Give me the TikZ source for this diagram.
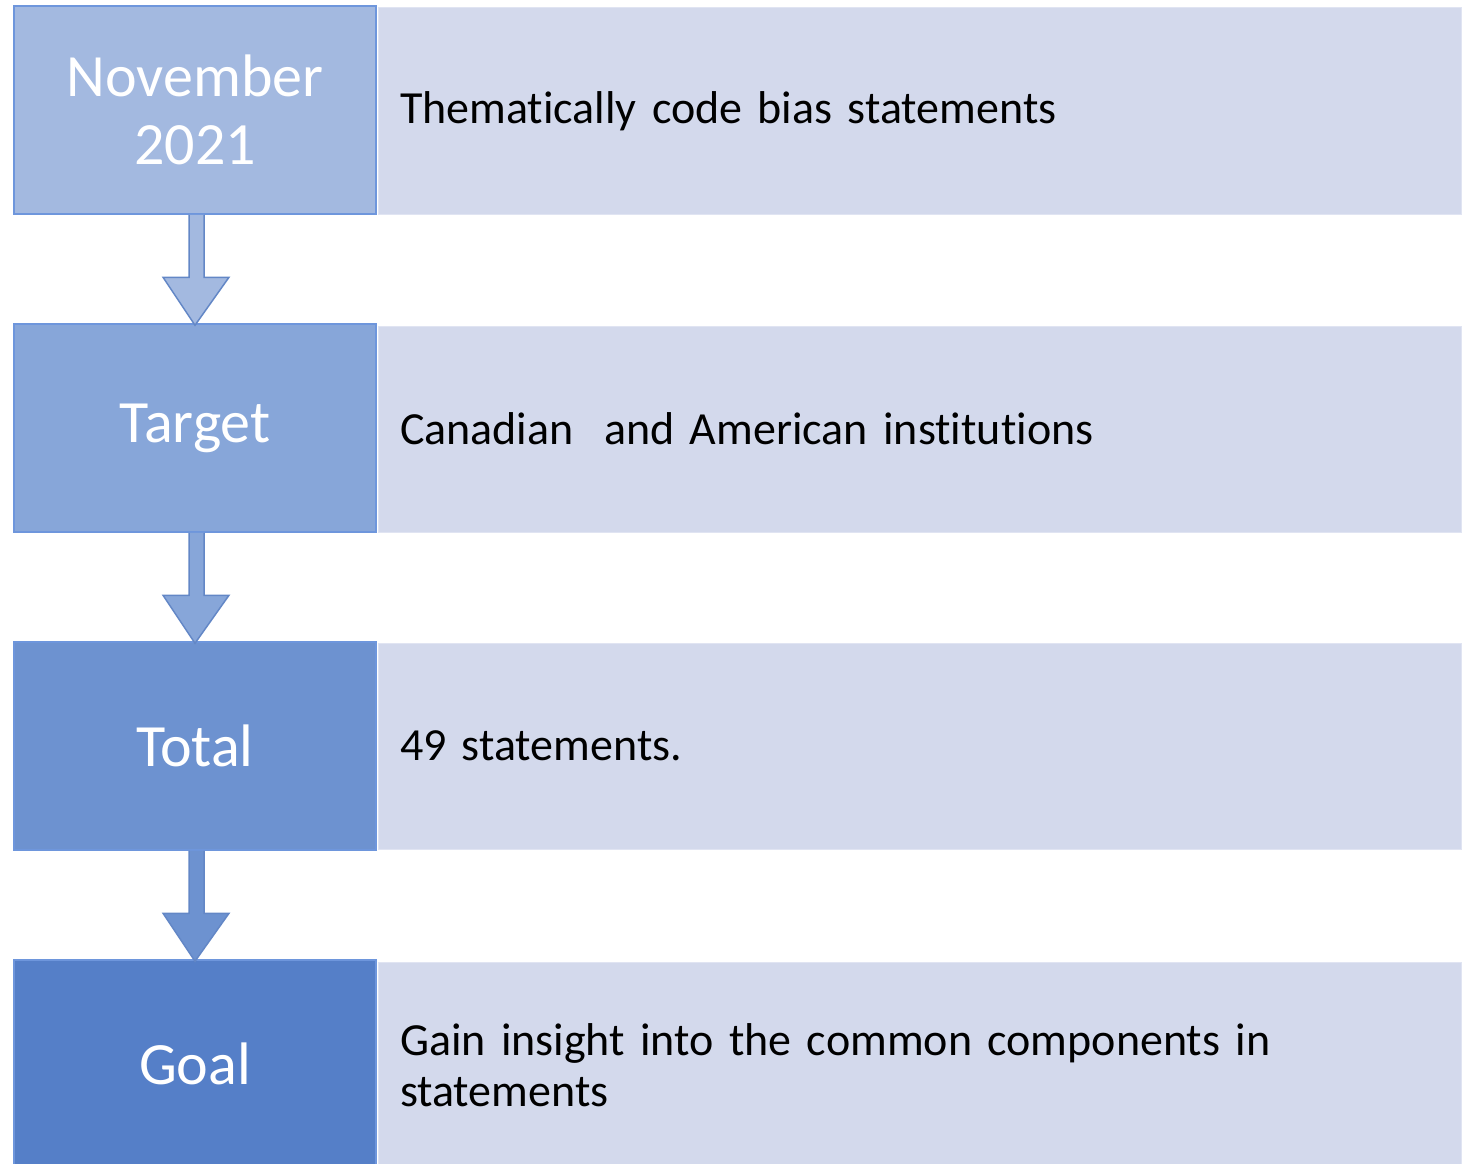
\documentclass[tikz,border=0pt]{standalone}
\usepackage{fontspec}
\setmainfont{Carlito}[Ligatures=NoCommon]
\definecolor{novfill}{HTML}{A3B9E0}
\definecolor{tgtfill}{HTML}{87A6D9}
\definecolor{totfill}{HTML}{6D92D0}
\definecolor{goalfill}{HTML}{557FC8}
\definecolor{boxedge}{HTML}{6E96DC}
\definecolor{infofill}{HTML}{D3D9EC}
\begin{document}
\begin{tikzpicture}[x=1pt,y=-1pt]
	\useasboundingbox (0,0) rectangle (1470,1164);
	\clip (0,0) rectangle (1470,1164);

	% Style for the boxes
	\tikzstyle{stage}=[
	rectangle,
	draw=boxedge,
	line width=1.5pt,
	minimum width=362pt,
	minimum height=208pt,
	align=center,
	text=white,
	font=\fontsize{60}{68}\selectfont
	]
	\tikzstyle{info}=[
	rectangle,
	fill=infofill,
	draw=infofill!70!white,
	line width=1pt,
	text width=1039pt,
	inner xsep=22pt,
	minimum height=206pt,
	align=left,
	font=\fontsize{46}{51}\selectfont
	]
	\tikzstyle{flow}=[
	draw=boxedge!90!black,
	line width=1.5pt,
	line join=miter
	]

	% --- First row ---
	\node[stage, fill=novfill] (NOV) at (195, 110) {November\\2021};
	\node[info] (NOVinfo) at (919.5, 111) {Thematically code bias statements};

	% --- Second row ---
	\node[stage, fill=tgtfill] (TGT) at (195, 428) {Target};
	\node[info] (TGTinfo) at (919.5, 429) {Canadian\ \ and American institutions};

	% --- Third row ---
	\node[stage, fill=totfill] (TOT) at (195, 746) {Total};
	\node[info] (TOTinfo) at (919.5, 746) {49 statements.};

	% --- Fourth row ---
	\node[stage, fill=goalfill] (GOAL) at (195, 1064) {Goal};
	\node[info] (GOALinfo) at (919.5, 1065) {Gain insight into the common components in\\statements};

	% block arrows between the stages
	\draw[flow, fill=novfill] ([xshift=-6pt]NOV.south) -- ([xshift=-6pt,yshift=46pt]TGT.north) -- ([xshift=-32pt,yshift=46pt]TGT.north) -- ([yshift=-2pt]TGT.north) -- ([xshift=34pt,yshift=46pt]TGT.north) -- ([xshift=9pt,yshift=46pt]TGT.north) -- ([xshift=9pt]NOV.south);
	\draw[flow, fill=tgtfill] ([xshift=-6pt]TGT.south) -- ([xshift=-6pt,yshift=46pt]TOT.north) -- ([xshift=-32pt,yshift=46pt]TOT.north) -- ([yshift=-2pt]TOT.north) -- ([xshift=34pt,yshift=46pt]TOT.north) -- ([xshift=9pt,yshift=46pt]TOT.north) -- ([xshift=9pt]TGT.south);
	\draw[flow, fill=totfill] ([xshift=-6pt]TOT.south) -- ([xshift=-6pt,yshift=46pt]GOAL.north) -- ([xshift=-32pt,yshift=46pt]GOAL.north) -- ([yshift=-2pt]GOAL.north) -- ([xshift=34pt,yshift=46pt]GOAL.north) -- ([xshift=9pt,yshift=46pt]GOAL.north) -- ([xshift=9pt]TOT.south);
\end{tikzpicture}
\end{document}
